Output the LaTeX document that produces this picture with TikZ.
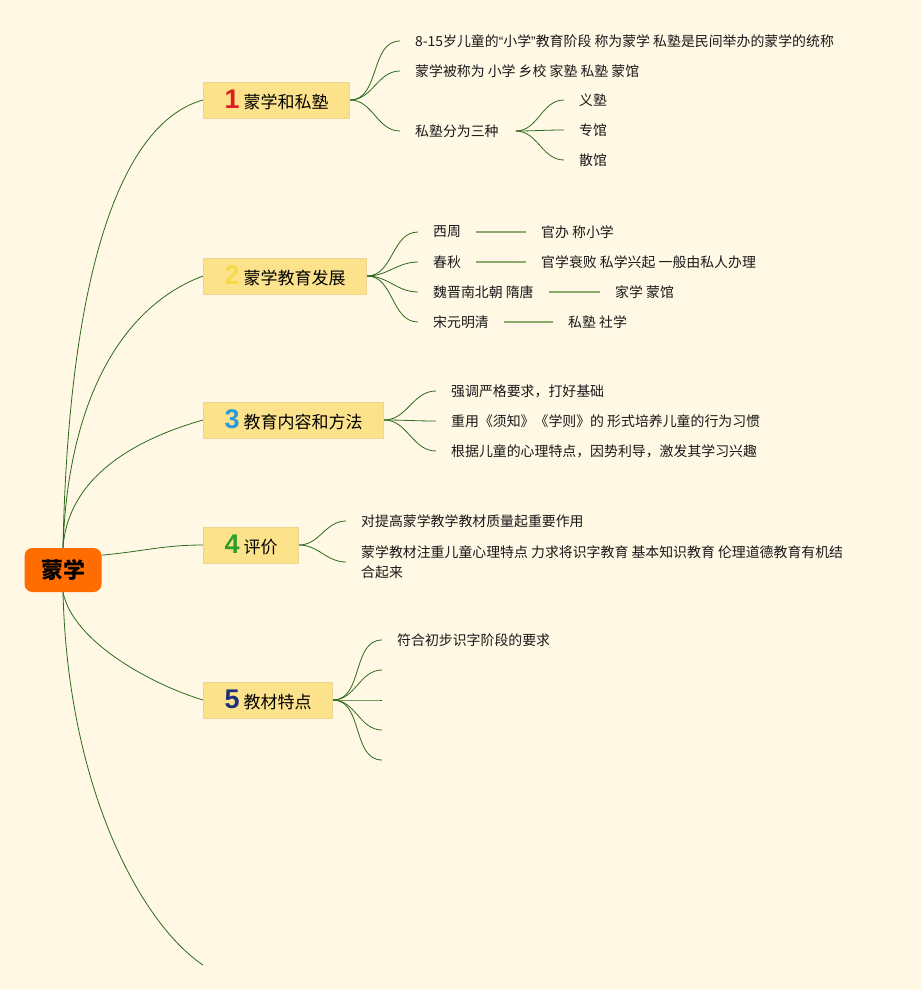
\documentclass[tikz,border=0pt]{standalone}
\usepackage{fontspec}
\newfontfamily\cjk{Noto Sans CJK SC}
\newfontfamily\numfont{Liberation Sans}
\definecolor{bg}{HTML}{FEF8E4}
\definecolor{rootorange}{HTML}{FF6D00}
\definecolor{topicfill}{HTML}{FDE28C}
\definecolor{topicedge}{HTML}{EFD690}
\definecolor{branchgreen}{HTML}{2E6A1E}
\definecolor{linkgreen}{HTML}{8BAA6C}
\definecolor{numred}{HTML}{DD1F1F}
\definecolor{numyellow}{HTML}{F6DA45}
\definecolor{numblue}{HTML}{2A9BD8}
\definecolor{numgreen}{HTML}{2E9E2A}
\definecolor{numnavy}{HTML}{1F2F7A}
\newcommand{\topicnum}[2]{\textcolor{#1}{\numfont\bfseries\fontsize{27}{27}\selectfont #2}\hspace{4pt}}
\tikzset{
  root/.style={fill=rootorange, rounded corners=8pt, minimum width=77pt, minimum height=44pt, inner sep=0pt, font=\cjk\bfseries\fontsize{22}{24}\selectfont},
  topic/.style={anchor=west, fill=topicfill, draw=topicedge, line width=1pt, minimum height=36pt, inner xsep=21pt, inner ysep=0pt, font=\cjk\fontsize{17}{20}\selectfont},
  leaf/.style={anchor=west, inner xsep=15pt, inner ysep=2pt, font=\cjk\fontsize{13.9}{20}\selectfont, text=black!90},
  branch/.style={draw=branchgreen, line width=0.8pt},
  link/.style={draw=linkgreen, line width=1.3pt}
}
\begin{document}
\begin{tikzpicture}[x=1pt,y=1pt]
  \fill[bg] (0,0) rectangle (921,-990);
  \node[root] (root) at (63,-570) {蒙学};
  \node[topic] (t1) at (203,-100) {\topicnum{numred}{1}蒙学和私塾};
  \node[topic] (t2) at (203,-276) {\topicnum{numyellow}{2}蒙学教育发展};
  \node[topic] (t3) at (203,-420) {\topicnum{numblue}{3}教育内容和方法};
  \node[topic] (t4) at (203,-545) {\topicnum{numgreen}{4}评价};
  \node[topic] (t5) at (203,-700) {\topicnum{numnavy}{5}教材特点};
  \coordinate (tail) at (203,-965);
  \draw[branch] (root.north) .. controls +(5,250) and +(-90,-25) .. (t1.west);
  \draw[branch] (root.north) .. controls +(5,150) and +(-80,-30) .. (t2.west);
  \draw[branch] (root.north) .. controls +(5,70) and +(-70,-20) .. (t3.west);
  \draw[branch] (root.21) to[out=5,in=180] (t4.west);
  \draw[branch] (root.south) .. controls +(10,-50) and +(-50,15) .. (t5.west);
  \draw[branch] (root.south) .. controls +(5,-200) and +(-60,40) .. (tail);

  \node[leaf] (a1) at (400,-41) {8-15岁儿童的{\numfont “}小学{\numfont ”}教育阶段 称为蒙学 私塾是民间举办的蒙学的统称};
  \node[leaf] (a2) at (400,-71) {蒙学被称为 小学 乡校 家塾 私塾 蒙馆};
  \node[leaf] (a3) at (400,-131) {私塾分为三种};
  \node[leaf] (a31) at (564,-100) {义塾};
  \node[leaf] (a32) at (564,-130) {专馆};
  \node[leaf] (a33) at (564,-160) {散馆};
  \foreach \n in {a1,a2,a3}
    \draw[branch] (t1.east) to[out=0,in=180] (\n.west);
  \foreach \n in {a31,a32,a33}
    \draw[branch] ([xshift=2pt]a3.east) to[out=0,in=180] (\n.west);

  \node[leaf] (b1) at (418,-232) {西周};
  \node[leaf] (b2) at (418,-262) {春秋};
  \node[leaf] (b3) at (418,-292) {魏晋南北朝 隋唐};
  \node[leaf] (b4) at (418,-322) {宋元明清};
  \node[leaf] (b1x) at (526,-232) {官办 称小学};
  \node[leaf] (b2x) at (526,-262) {官学衰败 私学兴起 一般由私人办理};
  \node[leaf] (b3x) at (600,-292) {家学 蒙馆};
  \node[leaf] (b4x) at (553,-322) {私塾 社学};
  \foreach \n in {b1,b2,b3,b4}{
    \draw[branch] (t2.east) to[out=0,in=180] (\n.west);
    \draw[link] (\n.east) -- (\n x.west);
  }

  \node[leaf] (c1) at (436,-391) {强调严格要求，打好基础};
  \node[leaf] (c2) at (436,-421) {重用《须知》《学则》的 形式培养儿童的行为习惯};
  \node[leaf] (c3) at (436,-451) {根据儿童的心理特点，因势利导，激发其学习兴趣};
  \foreach \n in {c1,c2,c3}
    \draw[branch] (t3.east) to[out=0,in=180] (\n.west);

  \node[leaf] (d1) at (346,-521) {对提高蒙学教学教材质量起重要作用};
  \node[leaf, align=left] (d2) at (346,-562) {蒙学教材注重儿童心理特点 力求将识字教育 基本知识教育 伦理道德教育有机结\\合起来};
  \foreach \n in {d1,d2}
    \draw[branch] (t4.east) to[out=0,in=180] (\n.west);

  \node[leaf] (e1) at (382,-640) {符合初步识字阶段的要求};
  \coordinate (e2) at (382,-670);
  \coordinate (e3) at (382,-700);
  \coordinate (e4) at (382,-730);
  \coordinate (e5) at (382,-760);
  \draw[branch] (t5.east) to[out=0,in=180] (e1.west);
  \foreach \n in {e2,e3,e4,e5}
    \draw[branch] (t5.east) to[out=0,in=180] (\n);
\end{tikzpicture}
\end{document}
